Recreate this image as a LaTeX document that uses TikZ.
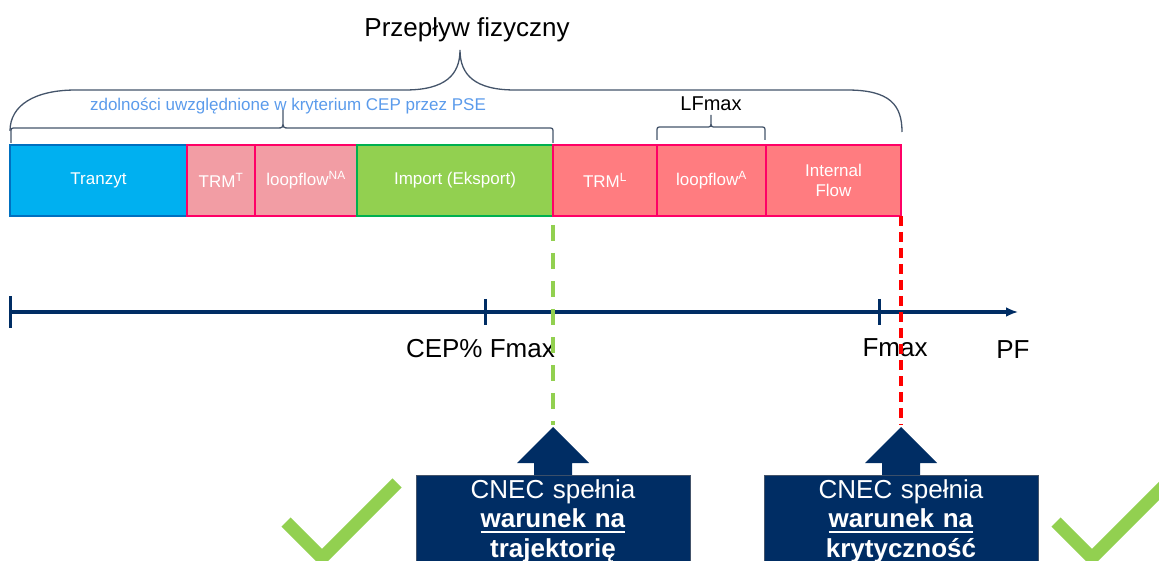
\documentclass[tikz,border=0pt]{standalone}
\usepackage{fontspec}
\setmainfont{Liberation Sans}
\usetikzlibrary{positioning,arrows.meta,calc}

\definecolor{navy}{RGB}{0,45,100}
\definecolor{tranblue}{RGB}{0,176,240}
\definecolor{tranedge}{RGB}{0,112,192}
\definecolor{pinkedge}{RGB}{255,0,102}
\definecolor{pinklight}{RGB}{242,157,164}
\definecolor{pinkred}{RGB}{255,124,128}
\definecolor{limegreen}{RGB}{146,208,80}
\definecolor{darkgreen}{RGB}{0,176,80}
\definecolor{braceline}{RGB}{68,84,106}
\definecolor{capblue}{RGB}{91,155,235}

\newcommand{\ulbold}[1]{\leavevmode\setbox0\hbox{\textbf{#1}}\rlap{\rule[-5.5pt]{\wd0}{2.2pt}}\box0}

\begin{document}
\begin{tikzpicture}[
                        x=1pt, y=-1pt,
                        node distance=0pt,
                        >={Latex[length=12pt,width=10pt]},
                        seg/.style={rectangle, draw, line width=2.5pt, minimum height=71pt,
                                    inner sep=0pt, outer sep=0pt, text=white, align=center,
                                    font=\fontsize{17}{20}\selectfont},
                        axis/.style={draw=navy, line width=3pt},
                        axlabel/.style={inner sep=0pt, font=\fontsize{26}{30}\selectfont},
                        brace/.style={draw=braceline, line width=1.3pt},
                        callout/.style={rectangle, fill=navy, draw=braceline, line width=0.6pt,
                                    text=white, inner xsep=0pt, inner ysep=4pt, text width=274pt,
                                    align=center, font=\fontsize{26}{29.5}\selectfont},
                        gdash/.style={draw=limegreen, line width=4pt, dash pattern=on 16pt off 12pt},
                        rdash/.style={draw=red, line width=4pt, dash pattern=on 10pt off 6pt},
                        check/.style={draw=limegreen, line width=13pt}
                    ]
                    \useasboundingbox (0,0) rectangle (1159,561);

                    % Blocks
                    \node [seg, anchor=north west, fill=tranblue, draw=tranedge, minimum width=177] (tranzyt) at (10,145) {Tranzyt};
                    \node [seg, right=of tranzyt, fill=pinklight, draw=pinkedge, minimum width=68] (trmT) {TRM\textsuperscript{T}};
                    \node [seg, right=of trmT, fill=pinklight, draw=pinkedge, minimum width=102] (loopNA) {loopflow\textsuperscript{NA}};
                    \node [seg, right=of loopNA, fill=limegreen, draw=darkgreen, minimum width=196] (import) {Import (Eksport)};
                    \node [seg, right=of import, fill=pinkred, draw=pinkedge, minimum width=104] (trmL) {TRM\textsuperscript{L}};
                    \node [seg, right=of trmL, fill=pinkred, draw=pinkedge, minimum width=109] (loopA) {loopflow\textsuperscript{A}};
                    \node [seg, right=of loopA, fill=pinkred, draw=pinkedge, minimum width=135] (intflow) {Internal\\Flow};

                    % Braces
                    \node [anchor=base, inner sep=0pt, font=\fontsize{26}{30}\selectfont] (przeplyw) at (467,37) {Przepływ fizyczny};
                    \draw [brace] (10,131) .. controls (10,105) and (35,90) .. (76,90) -- (405,90)
                        .. controls (445,90) and (460,75) .. (460,50)
                        .. controls (460,75) and (475,90) .. (515,90) -- (847,90)
                        .. controls (890,90) and (902,105) .. (902,132);
                    \node [anchor=base, inner sep=0pt, text=capblue, font=\fontsize{17}{20}\selectfont] (zdolnosci) at (288,111) {zdolności uwzględnione w kryterium CEP przez PSE};
                    \draw [brace] (11,143) -- (11,133) .. controls (11,128) .. (16,128) -- (277,128)
                        .. controls (283,128) .. (283,120) -- (283,110) -- (283,120)
                        .. controls (283,128) .. (289,128) -- (548,128)
                        .. controls (553,128) .. (553,133) -- (553,143);
                    \node [anchor=base, inner sep=0pt, font=\fontsize{20}{24}\selectfont] (lfmax) at (711,111) {LFmax};
                    \draw [brace] (657,140) -- (657,132) .. controls (657,127) .. (662,127) -- (706,127)
                        .. controls (711,127) .. (711,121) -- (711,115) -- (711,121)
                        .. controls (711,127) .. (716,127) -- (760,127)
                        .. controls (765,127) .. (765,132) -- (765,140);

                    % Axis
                    \coordinate (axL) at (10,312);
                    \coordinate (axR) at (1018,312);
                    \coordinate (tickC) at (485,312);
                    \coordinate (tickF) at (879,312);
                    \draw [axis, ->] (axL) -- (axR);
                    \draw [axis] ($(axL)+(0,-15.5)$) -- ($(axL)+(0,15.5)$);
                    \draw [axis] ($(tickC)+(0,-13)$) -- ($(tickC)+(0,13)$);
                    \draw [axis] ($(tickF)+(0,-13)$) -- ($(tickF)+(0,13)$);
                    \node [axlabel, anchor=base east] (cepfmax) at (555,357) {CEP\% Fmax};
                    \node [axlabel, anchor=base] (fmax) at (895,356) {Fmax};
                    \node [axlabel, anchor=base] (pf) at (1013,358) {PF};

                    % Callouts
                    \coordinate (tipL) at (553,427);
                    \coordinate (tipR) at (901,427);
                    \node [callout, anchor=north] (cbL) at (553,475) {CNEC spełnia\\\ulbold{warunek na}\\\textbf{trajektorię}};
                    \node [callout, anchor=north] (cbR) at (901,475) {CNEC spełnia\\\ulbold{warunek na}\\\textbf{krytyczność}};
                    \fill [navy] ($(cbL.north)+(-19,0)$) -- ++(0,-12) -- ++(-17,0) -- (tipL) -- ++(36,36) -- ++(-17,0) -- ++(0,12) -- cycle;
                    \fill [navy] ($(cbR.north)+(-19,0)$) -- ++(0,-12) -- ++(-17,0) -- (tipR) -- ++(36,36) -- ++(-17,0) -- ++(0,12) -- cycle;

                    % Connections
                    \draw [gdash, shorten <=9pt, shorten >=2pt] (import.south east) -- (tipL);
                    \draw [rdash, shorten >=2pt] (intflow.south east) -- (tipR);

                    % Checks
                    \draw [check] (286,522) -- (322,558) -- (397,483);
                    \draw [check] (1056,522) -- (1092,558) -- (1175,475);
                \end{tikzpicture}
\end{document}
